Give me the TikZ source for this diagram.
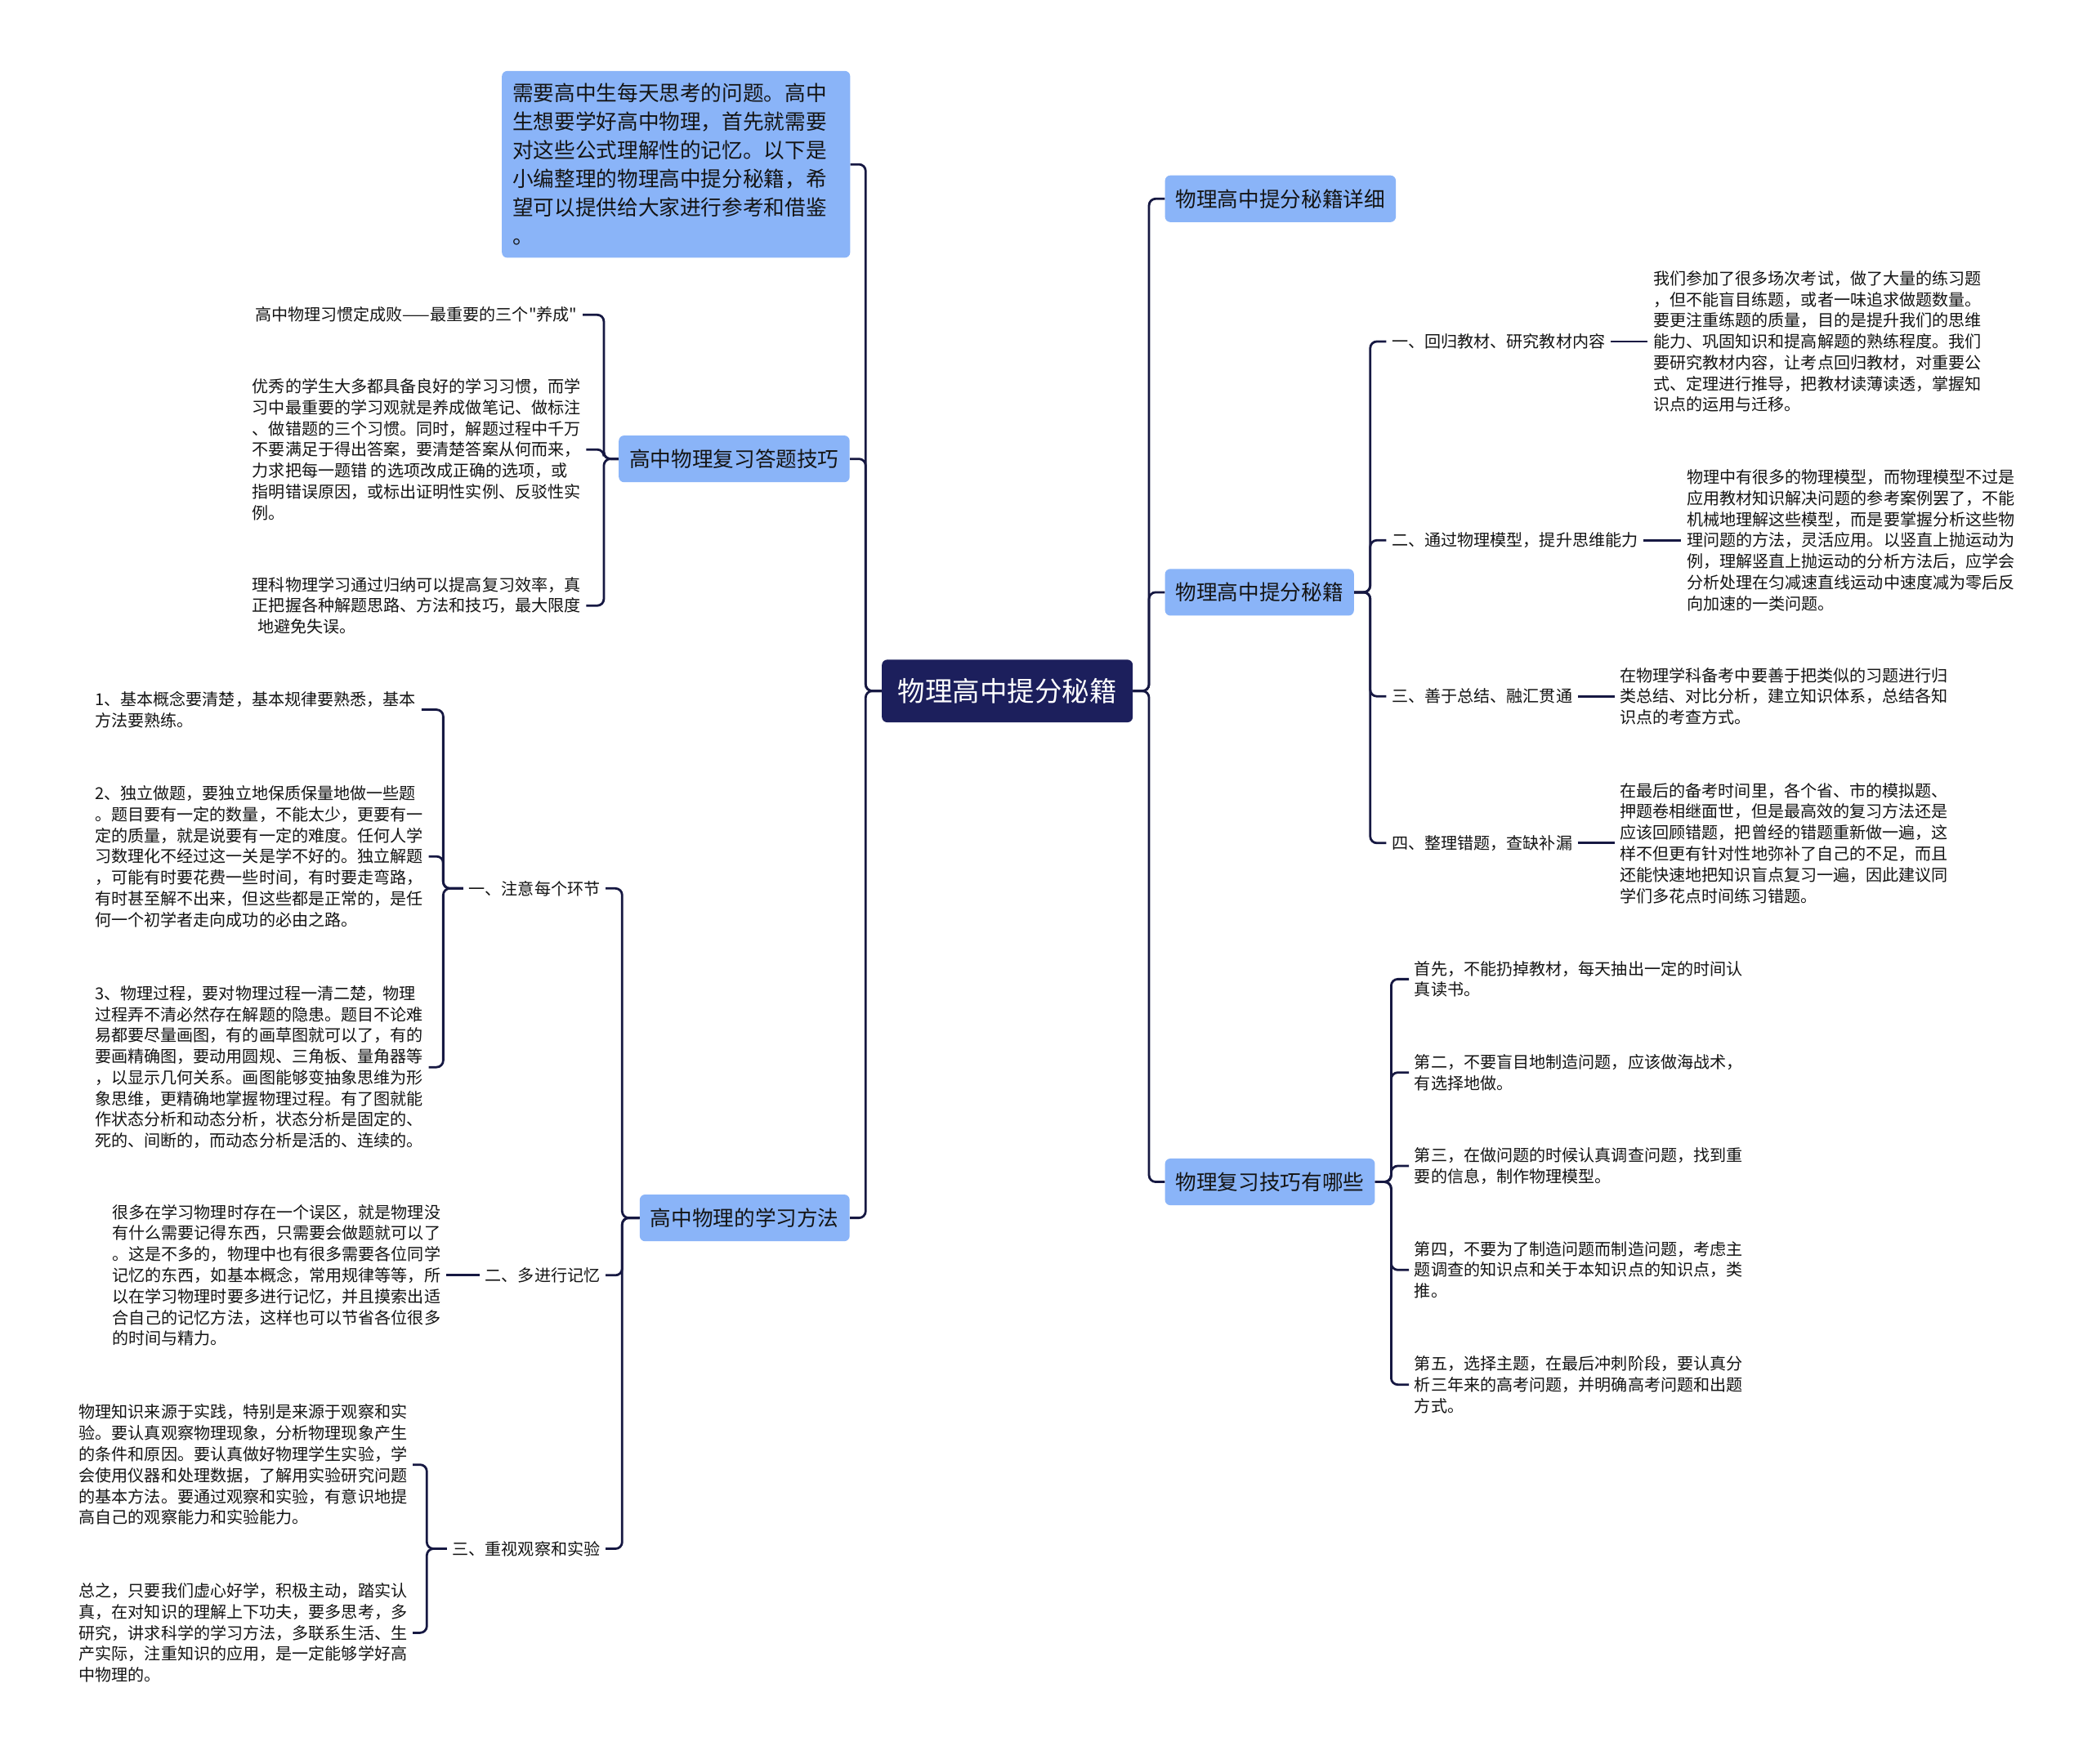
\documentclass[tikz,border=0pt]{standalone}
\usepackage{fontspec}
\setmainfont{Noto Sans CJK SC}[Ligatures=TeXOff]

\definecolor{navy}{RGB}{28,31,92}
\definecolor{duong}{RGB}{22,24,66}
\definecolor{xanh}{RGB}{138,180,248}
\definecolor{chu}{RGB}{20,20,20}

\newcommand\rootfont{\fontsize{20.5}{24}\selectfont}
\newcommand\topicfont{\fontsize{15.7}{21.4}\selectfont}
\newcommand\leaffont{\fontsize{12.3}{15.8}\selectfont}

\tikzset{
  rootbox/.style={fill=navy,text=white,rounded corners=4pt,font=\rootfont,
    inner xsep=12pt,minimum height=47pt},
  topicbox/.style={fill=xanh,text=chu,rounded corners=4pt,font=\topicfont,
    inner xsep=8pt,minimum height=35pt},
  introbox/.style={topicbox,text width=245pt,align=left,inner ysep=8pt,minimum height=140pt},
  subtext/.style={text=chu,font=\leaffont,inner xsep=4pt,inner ysep=2pt},
  leaftext/.style={subtext,align=left},
  branch/.style={draw=duong,line width=1.7pt,rounded corners=5pt},
}

\begin{document}
\begin{tikzpicture}[x=1pt,y=-1pt]
  \path[fill=white] (0,0) rectangle (1568,1322);
  \useasboundingbox (0,0) rectangle (1568,1322);
  % Nút gốc
  \node[rootbox] (root) at (755,518) {物理高中提分秘籍};
  % Nhánh trái
  \node[introbox,anchor=north west] (intro) at (376,53) {需要高中生每天思考的问题。高中\\生想要学好高中物理，首先就需要\\对这些公式理解性的记忆。以下是\\小编整理的物理高中提分秘籍，希\\望可以提供给大家进行参考和借鉴\\。};
  \node[topicbox,anchor=east] (hb) at (637,344) {高中物理复习答题技巧};
  \node[topicbox,anchor=east] (ff) at (637,913) {高中物理的学习方法};
  % Nhánh phải
  \node[topicbox,anchor=west] (xx) at (873,149) {物理高中提分秘籍详细};
  \node[topicbox,anchor=west] (mj) at (873,444) {物理高中提分秘籍};
  \node[topicbox,anchor=west] (jq) at (873,886) {物理复习技巧有哪些};
  \foreach \t in {intro,hb,ff}
    \draw[branch] (root.west) -- ++(-12,0) |- (\t.east);
  \foreach \t in {xx,mj,jq}
    \draw[branch] (root.east) -- ++(12,0) |- (\t.west);

  % 复习答题技巧
  \node[leaftext,anchor=west] (hb1) at (187,236) {高中物理习惯定成败——最重要的三个"养成"};
  \node[leaftext,anchor=west] (hb2) at (185,337) {优秀的学生大多都具备良好的学习习惯，而学\\
习中最重要的学习观就是养成做笔记、做标注\\
、做错题的三个习惯。同时，解题过程中千万\\
不要满足于得出答案，要清楚答案从何而来，\\
力求把每一题错 的选项改成正确的选项，或\\
指明错误原因，或标出证明性实例、反驳性实\\
例。};
  \node[leaftext,anchor=west] (hb3) at (185,454) {理科物理学习通过归纳可以提高复习效率，真\\
正把握各种解题思路、方法和技巧，最大限度\\
\hspace*{4pt}地避免失误。};
  \foreach \c in {hb1,hb2,hb3}
    \draw[branch] (hb.west) -- ++(-11,0) |- (\c.east);

  % 学习方法
  \node[subtext,anchor=east] (ff1) at (454,666) {一、注意每个环节};
  \node[subtext,anchor=east] (ff2) at (454,956) {二、多进行记忆};
  \node[subtext,anchor=east] (ff3) at (454,1161) {三、重视观察和实验};
  \foreach \c in {ff1,ff2,ff3}
    \draw[branch] (ff.west) -- ++(-13,0) |- (\c.east);

  \node[leaftext,anchor=west] (ff1a) at (67,532) {1、基本概念要清楚，基本规律要熟悉，基本\\
方法要熟练。};
  \node[leaftext,anchor=west] (ff1b) at (67,642) {2、独立做题，要独立地保质保量地做一些题\\
。题目要有一定的数量，不能太少，更要有一\\
定的质量，就是说要有一定的难度。任何人学\\
习数理化不经过这一关是学不好的。独立解题\\
，可能有时要花费一些时间，有时要走弯路，\\
有时甚至解不出来，但这些都是正常的，是任\\
何一个初学者走向成功的必由之路。};
  \node[leaftext,anchor=west] (ff1c) at (67,800) {3、物理过程，要对物理过程一清二楚，物理\\
过程弄不清必然存在解题的隐患。题目不论难\\
易都要尽量画图，有的画草图就可以了，有的\\
要画精确图，要动用圆规、三角板、量角器等\\
，以显示几何关系。画图能够变抽象思维为形\\
象思维，更精确地掌握物理过程。有了图就能\\
作状态分析和动态分析，状态分析是固定的、\\
死的、间断的，而动态分析是活的、连续的。};
  \foreach \c in {ff1a,ff1b,ff1c}
    \draw[branch] (ff1.west) -- ++(-15,0) |- (\c.east);

  \node[leaftext,anchor=west] (ff2a) at (80,956) {很多在学习物理时存在一个误区，就是物理没\\
有什么需要记得东西，只需要会做题就可以了\\
。这是不多的，物理中也有很多需要各位同学\\
记忆的东西，如基本概念，常用规律等等，所\\
以在学习物理时要多进行记忆，并且摸索出适\\
合自己的记忆方法，这样也可以节省各位很多\\
的时间与精力。};
  \draw[branch] (ff2.west) -- (ff2.west -| ff2a.east);

  \node[leaftext,anchor=west] (ff3a) at (55,1098) {物理知识来源于实践，特别是来源于观察和实\\
验。要认真观察物理现象，分析物理现象产生\\
的条件和原因。要认真做好物理学生实验，学\\
会使用仪器和处理数据，了解用实验研究问题\\
的基本方法。要通过观察和实验，有意识地提\\
高自己的观察能力和实验能力。};
  \node[leaftext,anchor=west] (ff3b) at (55,1224) {总之，只要我们虚心好学，积极主动，踏实认\\
真，在对知识的理解上下功夫，要多思考，多\\
研究，讲求科学的学习方法，多联系生活、生\\
产实际，注重知识的应用，是一定能够学好高\\
中物理的。};
  \foreach \c in {ff3a,ff3b}
    \draw[branch] (ff3.west) -- ++(-15,0) |- (\c.east);

  % 提分秘籍
  \node[subtext,anchor=west] (mj1) at (1039,256) {一、回归教材、研究教材内容};
  \node[subtext,anchor=west] (mj2) at (1039,405) {二、通过物理模型，提升思维能力};
  \node[subtext,anchor=west] (mj3) at (1039,522) {三、善于总结、融汇贯通};
  \node[subtext,anchor=west] (mj4) at (1039,632) {四、整理错题，查缺补漏};
  \foreach \c in {mj1,mj2,mj3,mj4}
    \draw[branch] (mj.east) -- ++(12,0) |- (\c.west);

  \node[leaftext,anchor=west] (mj1a) at (1235,256) {我们参加了很多场次考试，做了大量的练习题\\
，但不能盲目练题，或者一味追求做题数量。\\
要更注重练题的质量，目的是提升我们的思维\\
能力、巩固知识和提高解题的熟练程度。我们\\
要研究教材内容，让考点回归教材，对重要公\\
式、定理进行推导，把教材读薄读透，掌握知\\
识点的运用与迁移。};
  \node[leaftext,anchor=west] (mj2a) at (1260,405) {物理中有很多的物理模型，而物理模型不过是\\
应用教材知识解决问题的参考案例罢了，不能\\
机械地理解这些模型，而是要掌握分析这些物\\
理问题的方法，灵活应用。以竖直上抛运动为\\
例，理解竖直上抛运动的分析方法后，应学会\\
分析处理在匀减速直线运动中速度减为零后反\\
向加速的一类问题。};
  \node[leaftext,anchor=west] (mj3a) at (1210,522) {在物理学科备考中要善于把类似的习题进行归\\
类总结、对比分析，建立知识体系，总结各知\\
识点的考查方式。};
  \node[leaftext,anchor=west] (mj4a) at (1210,632) {在最后的备考时间里，各个省、市的模拟题、\\
押题卷相继面世，但是最高效的复习方法还是\\
应该回顾错题，把曾经的错题重新做一遍，这\\
样不但更有针对性地弥补了自己的不足，而且\\
还能快速地把知识盲点复习一遍，因此建议同\\
学们多花点时间练习错题。};
  \foreach \i in {1,...,4}
    \draw[branch] (mj\i.east) -- (mj\i.east -| mj\i a.west);

  % 复习技巧有哪些
  \node[leaftext,anchor=west] (jq1) at (1056,734) {首先，不能扔掉教材，每天抽出一定的时间认\\
真读书。};
  \node[leaftext,anchor=west] (jq2) at (1056,804) {第二，不要盲目地制造问题，应该做海战术，\\
有选择地做。};
  \node[leaftext,anchor=west] (jq3) at (1056,874) {第三，在做问题的时候认真调查问题，找到重\\
要的信息，制作物理模型。};
  \node[leaftext,anchor=west] (jq4) at (1056,952) {第四，不要为了制造问题而制造问题，考虑主\\
题调查的知识点和关于本知识点的知识点，类\\
推。};
  \node[leaftext,anchor=west] (jq5) at (1056,1038) {第五，选择主题，在最后冲刺阶段，要认真分\\
析三年来的高考问题，并明确高考问题和出题\\
方式。};
  \foreach \c in {jq1,jq2,jq3,jq4,jq5}
    \draw[branch] (jq.east) -- ++(12,0) |- (\c.west);
\end{tikzpicture}
\end{document}
